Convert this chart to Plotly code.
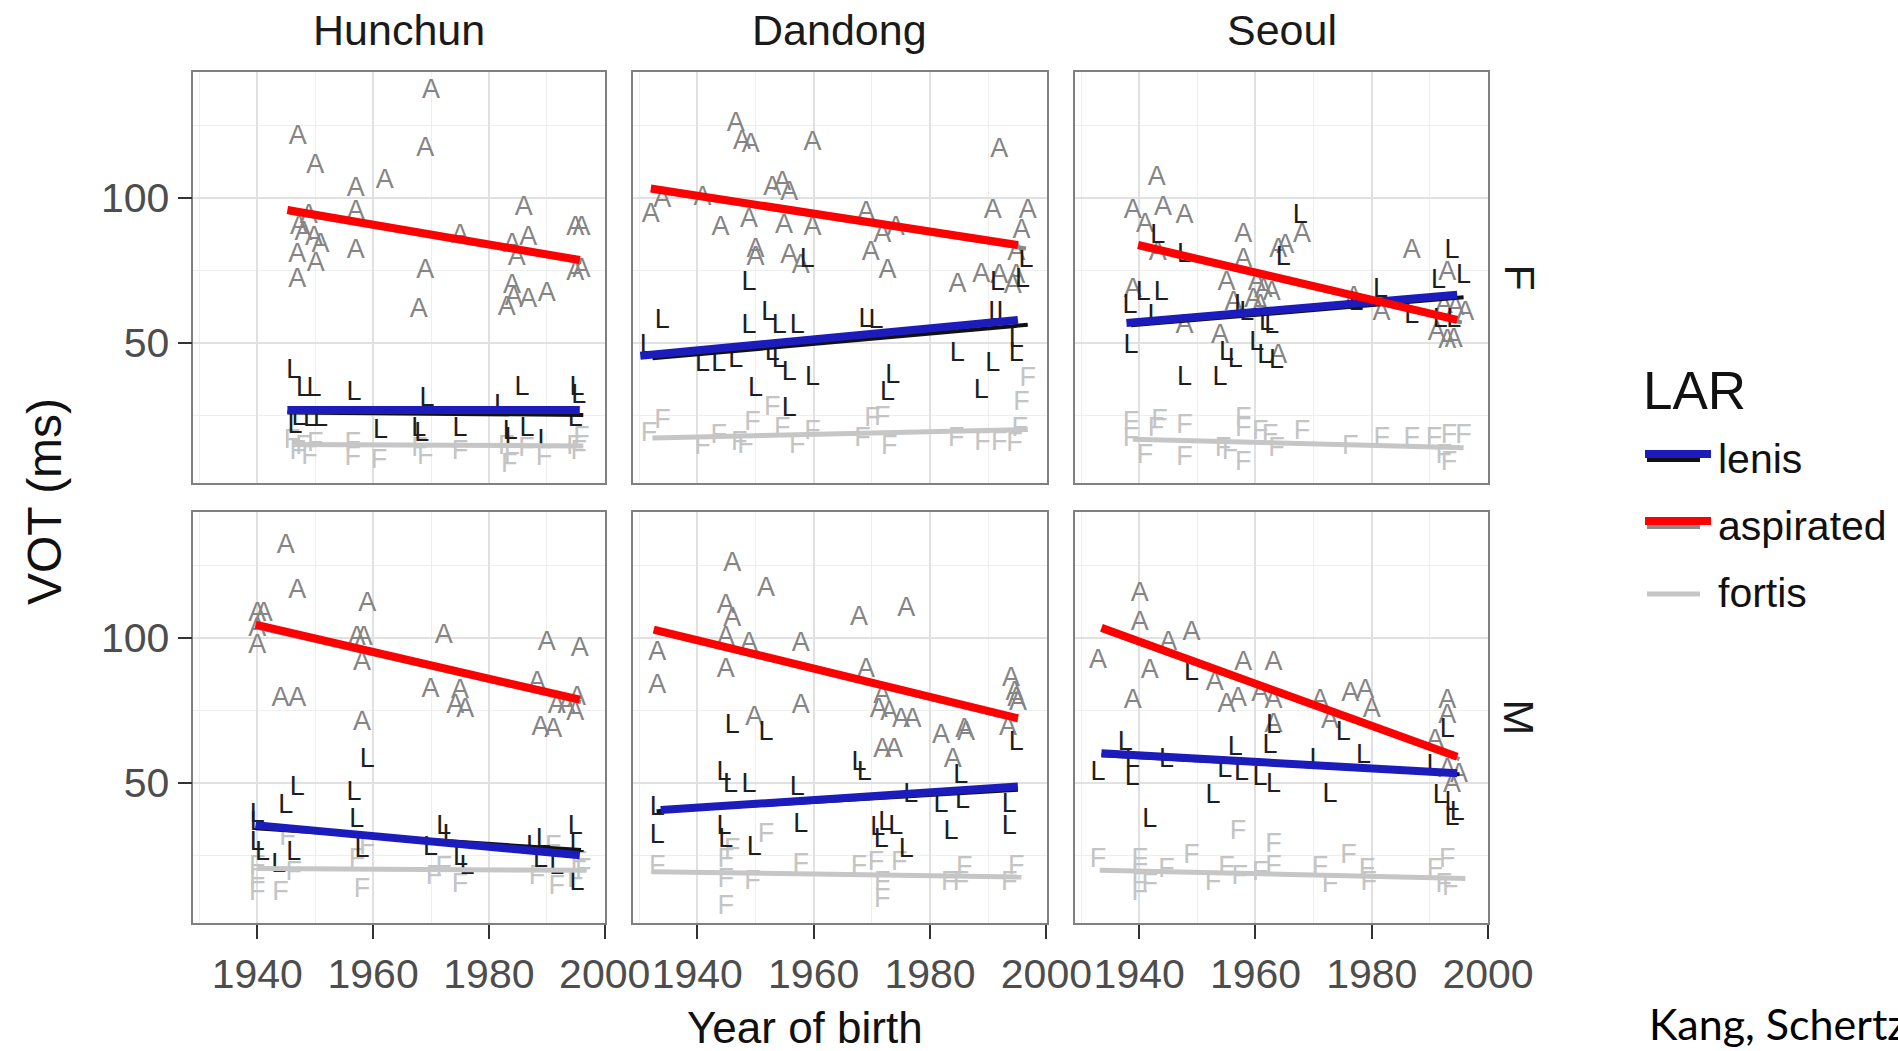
import plotly.graph_objects as go

FONT = "Liberation Sans, Arial, Helvetica, sans-serif"

CITIES = ["Hunchun", "Dandong", "Seoul"]
SEXES = ["F", "M"]
LAR_LEVELS = ["lenis", "aspirated", "fortis"]
X_TICKS = [1940, 1960, 1980, 2000]
X_MINOR = [1930, 1950, 1970, 1990]
Y_TICKS = [50, 100]
Y_MINOR = [25, 75, 125]

# ---- data: (year of birth, VOT ms) ----
HF_ASP = [(1970,137),(1947,121),(1950,111),(1969,117),(1957,103),(1962,106),(1957,95),(1957,81.5),(1948.9,93.6),
          (1947.2,90),(1948,87.8),(1949.8,86),(1950.9,83.8),(1946.9,80.3),(1950.1,77),(1946.9,71.7),(1969,74.6),
          (1967.9,61.4),(1975,86.7),(1986,96.4),(1986.8,86),(1984.8,79.2),(1984,83.8),(1984,69.4),(1984.3,65.4),
          (1983.1,62),(1986.8,64.8),(1990,66.6),(1994.9,89.5),(1996,89.5),(1994.9,74),(1996,75.2)]
HF_LEN = [(1946.3,40),(1948,33.8),(1949.8,33.8),(1956.7,32.6),(1969.3,30.3),(1982.2,28),(1985.7,34.4),(1995.2,34.4),
          (1995.5,31.5),(1961.3,19.4),(1967.9,20),(1975,20),(1983.7,18.9),(1986.6,20),(1989.7,16),(1947.2,24),
          (1949.2,23.4),(1950.9,23.4),(1994.9,23.4),(1984,16.6),(1968.4,18.5),(1946.5,21)]
HF_FOR = [(1946,16),(1947,12),(1948,14),(1949,10.5),(1950,15),(1956.5,15),(1956.5,10),(1961,9),(1968,13),(1969,10.5),
          (1975,12),(1983,14),(1983.5,7.5),(1984,11),(1986.5,13),(1989.5,10),(1994.8,14),(1995.5,12),(1996,17)]

DF_ASP = [(1946.6,125.7),(1947.7,119.4),(1949.2,118.3),(1959.8,118.9),(1991.9,116.6),(1934,99.3),(1932,94.1),
          (1940.9,99.9),(1952.9,103.3),(1954.6,105.1),(1955.8,101.6),(1944,89.5),(1948.9,92.4),(1954.9,90.1),
          (1959.8,89.5),(1950,82.1),(1950,79.2),(1955.8,79.8),(1957.8,76.3),(1969,94.7),(1971.8,87.2),(1974.1,89.5),
          (1969.8,80.9),(1972.7,74.6),(1984.7,70),(1988.8,73.4),(1990.8,95.3),(1996.8,95.3),(1995.7,88.4),
          (1994.8,80.9),(1994.8,72.9),(1991.9,72.9),(1994.2,69.4)]
DF_LEN = [(1958.9,78.6),(1948.9,70.6),(1996.5,78.6),(1995.9,71.7),(1991.6,70.6),(1934,57.4),(1948.9,55.6),
          (1952.3,60.2),(1954.1,55.6),(1957.2,55.6),(1969,57.9),(1970.7,57.4),(1991.3,60.2),(1992.7,60.2),
          (1931.4,48.7),(1940.9,42.4),(1943.7,42.4),(1946.6,44.1),(1952.9,46.4),(1954.1,44.1),(1950,33.8),
          (1955.8,39.5),(1959.8,37.8),(1973.6,38.4),(1972.7,32.6),(1984.7,45.9),(1990.8,42.4),(1988.8,33.2),
          (1994.8,45.9),(1994.8,51),(1955.8,26.9)]
DF_FOR = [(1996.8,37.2),(1995.7,29.2),(1952.9,27.5),(1934,22.9),(1931.7,18.3),(1949.5,22.3),(1970.1,23.4),
          (1971.8,24),(1940.9,13.7),(1943.7,17.7),(1947.2,15.4),(1948.3,14.3),(1954.6,20),(1957.2,14.3),
          (1959.8,18.9),(1968.4,16.6),(1973,13.7),(1984.5,16.6),(1989,15.4),(1991.9,15.4),(1994.5,14.8),(1995.4,20)]

SF_ASP = [(1943,106.8),(1938.9,95.3),(1941,90.7),(1944.1,96.4),(1947.8,93.6),(1943.2,80.9),(1957.9,87.2),
          (1957.9,78.6),(1963.9,82.1),(1965.1,83.2),(1968,87.2),(1955,70.6),(1960.2,70.6),(1961.4,68.3),
          (1962.8,67.1),(1956.2,63.7),(1959.6,64.8),(1960.8,62.5),(1953.9,52.2),(1947.8,55.6),(1938.9,68.3),
          (1963.9,45.3),(1986.9,81.5),(1981.7,60.2),(1993,74),(1992.4,62.5),(1994.4,62),(1996.1,60.2),
          (1991.2,53.3),(1993,50.5),(1994.1,51),(1976.9,65.4)]
SF_LEN = [(1967.7,93.6),(1943.2,86.7),(1947.8,80.3),(1964.8,79.2),(1993.8,81.5),(1995.8,72.9),(1991.5,71.1),
          (1940.7,67.1),(1943.8,67.1),(1938.4,62.5),(1942.7,59.1),(1957.6,62.5),(1958.5,60.2),(1961.9,56.8),
          (1962.8,55.6),(1960.2,49.9),(1961.6,45.3),(1955,46.4),(1956.5,44.1),(1963.6,43.6),(1938.6,48.7),
          (1947.8,37.8),(1953.9,37.8),(1981.5,68.3),(1986.9,59.1),(1991.8,57.9),(1994.1,57.9),(1977.3,63.7)]
SF_FOR = [(1938.6,22.3),(1938.6,16.6),(1943.5,22.9),(1942.9,20),(1947.8,21.1),(1941,10.8),(1947.8,10.2),
          (1957.9,23.4),(1957.9,20),(1954.4,13.1),(1955.6,12),(1957.9,8.5),(1960.8,18.9),(1962.5,17.7),
          (1963.6,13.1),(1968,18.9),(1976.3,13.7),(1981.7,16.6),(1986.9,16.6),(1990.7,16.6),(1993.3,17.7),
          (1995.8,17.7),(1992.4,10.8),(1993.3,8.5)]

HM_ASP = [(1944.9,131.7),(1946.9,116.1),(1940,108.1),(1941.1,108.1),(1940,102.9),(1940,97.1),(1959,111.5),
          (1957.2,100),(1958.4,100),(1958.1,91.3),(1958.1,70.6),(1944,78.7),(1946.9,78.7),(1972.2,100.6),
          (1969.9,82.1),(1975,81.5),(1974.2,76.4),(1975.9,75.2),(1990,98.3),(1995.7,96),(1988.3,84.4),
          (1991.7,76.4),(1993.4,76.4),(1995.2,79.2),(1994.9,74),(1988.9,68.9),(1991.1,68.3)]
HM_LEN = [(1959,57.9),(1956.7,46.4),(1946.9,48.1),(1944.9,41.8),(1940,38.9),(1940,36),(1957.2,37.1),(1940,29.1),
          (1940.9,25.6),(1943.7,21.6),(1946.3,25.6),(1958.1,26.8),(1972.2,34.8),(1973.3,31.4),(1969.9,27.3),
          (1975.1,23.9),(1976.2,21),(1987.7,27.9),(1989.4,30.2),(1988.9,23.3),(1991.7,21),(1994.9,34.8),
          (1995.2,28.5),(1995.2,15.2)]
HM_FOR = [(1940,21),(1940,11.8),(1944,11.8),(1945.2,30.8),(1940,16.4),(1946.3,18.7),(1959,27.9),(1958.1,12.9),
          (1957.2,23.3),(1970.5,17.5),(1972.2,20.4),(1975,14.6),(1988.3,17.5),(1991.7,14.1),(1991.1,27.9),
          (1995.5,22.1),(1996.3,19.8),(1994.9,16.4)]

DM_ASP = [(1946,125.4),(1951.8,116.7),(1944.9,111),(1946,106.3),(1944.9,100),(1948.9,97.7),(1933.1,94.8),
          (1933.1,83.3),(1944.9,89),(1957.8,97.7),(1957.8,76.4),(1949.8,72.3),(1967.8,106.9),(1975.9,109.8),
          (1969,89),(1971.8,79.8),(1971.2,75.2),(1973,74),(1975,71.7),(1977,71.7),(1971.8,61.4),(1973.8,61.4),
          (1981.9,66),(1985.9,68.3),(1986.2,67.1),(1983.9,57.9),(1993.9,85.6),(1994.5,81),(1994.8,78.7),
          (1995.1,77.5),(1993.4,68.9)]
DM_LEN = [(1946,69.4),(1951.8,67.1),(1944.6,53.3),(1945.7,49.1),(1948.9,49.3),(1957.2,48.1),(1933.1,41.2),
          (1933.1,31.4),(1944.6,34.8),(1944.9,30.2),(1949.8,27.3),(1957.8,35.4),(1967.8,56.7),(1968.7,53.3),
          (1971,34.3),(1971.6,30.2),(1972.4,36),(1974.1,34.8),(1975.9,26.8),(1976.7,45.8),(1981.9,42.3),
          (1985.3,52.1),(1985.6,43.5),(1983.6,33.1),(1993.6,42.3),(1993.6,34.8),(1994.8,63.7)]
DM_FOR = [(1951.8,31.9),(1946,26.8),(1933.1,21),(1944.9,23.3),(1944.9,16.4),(1949.5,15.8),(1944.9,7.2),
          (1957.8,21.6),(1967.8,21),(1970.7,22.1),(1974.7,22.1),(1971.8,15.2),(1971.8,9.5),(1985.9,20.4),
          (1983.3,15.2),(1985.3,15.2),(1994.8,21),(1993.6,15.2)]

SM_ASP = [(1940.1,115),(1940.1,105.2),(1945,98.3),(1949,101.7),(1932.9,91.9),(1941.8,88.5),(1938.9,78.1),
          (1957.9,91.3),(1963.1,91.3),(1953,84.4),(1955,76.9),(1957,78.7),(1960.8,80.4),(1963.1,78.1),(1963.1,70),
          (1971.1,78.1),(1972.8,71.2),(1976.3,80.4),(1978.9,81.5),(1980,75.2),(1993,78.1),(1993,72.9),
          (1990.9,64.2),(1993,54.4),(1995,52.7),(1993.8,49.3)]
SM_LEN = [(1949,87.9),(1963.1,69.4),(1962.5,62.5),(1993,68.3),(1975.1,67.1),(1937.6,63.7),(1938.8,57.9),
          (1938.8,51.6),(1932.9,53.3),(1944.7,57.9),(1956.5,61.9),(1954.7,54.4),(1957.6,53.3),(1960.8,51.6),
          (1963.1,49.3),(1952.7,45.2),(1941.8,37.1),(1970.6,57.9),(1978.6,59.1),(1972.8,45.8),(1990.7,55.6),
          (1991.8,45.2),(1993.8,42.9),(1994.7,39.4),(1993.8,37.7)]
SM_FOR = [(1932.9,23.3),(1940.1,23.3),(1940.1,18.1),(1941.8,14.6),(1940.1,11.8),(1944.7,19.8),(1949,24.5),
          (1952.7,15.2),(1955,20.4),(1957,33.1),(1957.3,17.5),(1960.8,18.7),(1963.1,28.5),(1963.1,21),
          (1971.1,20.4),(1972.8,14.6),(1976,24.5),(1979.2,19.8),(1979.5,15.2),(1990.9,19.8),(1993,23.3),
          (1992.4,14.6),(1993.5,13.5)]

# ---- linear trend lines (start, end) ----
HF_FIT = {"lenis": [(1945.2,25.9),(1996.3,25.0)], "aspirated": [(1945.5,95.0),(1996.0,77.8)], "fortis": [(1946,14.8),(1996.3,14.3)]}
DF_FIT = {"lenis": [(1932.3,44.6),(1996.8,56.2)], "aspirated": [(1932.3,102.5),(1996.5,82.6)], "fortis": [(1932.3,17.1),(1996.8,20.0)]}
SF_FIT = {"lenis": [(1938.6,56.0),(1995.8,65.7)], "aspirated": [(1939.8,83.0),(1995.5,57.0)], "fortis": [(1938.9,16.6),(1995.8,13.7)]}
HM_FIT = {"lenis": [(1939.7,34.3),(1995.9,26.8)], "aspirated": [(1939.7,103.7),(1995.9,77.9)], "fortis": [(1940,20.4),(1996.9,19.8)]}
DM_FIT = {"lenis": [(1933.0,40.2),(1995.1,47.6)], "aspirated": [(1933.0,102.0),(1995.1,71.5)], "fortis": [(1932.3,19.3),(1995.7,17.5)]}
SM_FIT = {"lenis": [(1933.5,59.5),(1995.1,53.0)], "aspirated": [(1933.5,102.7),(1995.1,58.2)], "fortis": [(1933.2,19.8),(1996.1,17.0)]}

# highlighted (hand-drawn) overlay lines
HF_HL = {"lenis": [(1945.2,26.7),(1995.7,26.7)], "aspirated": [(1945.2,95.9),(1995.7,78.6)]}
DF_HL = {"lenis": [(1930.2,45.5),(1995.1,57.9)], "aspirated": [(1932.0,103.3),(1995.1,83.8)]}
SF_HL = {"lenis": [(1937.8,56.8),(1994.7,66.6)], "aspirated": [(1939.8,83.8),(1994.7,57.9)]}
HM_HL = {"lenis": [(1939.7,35.4),(1995.7,25.0)], "aspirated": [(1939.7,104.6),(1995.7,78.7)]}
DM_HL = {"lenis": [(1933.7,40.6),(1995.1,48.7)], "aspirated": [(1932.5,102.9),(1995.1,72.3)]}
SM_HL = {"lenis": [(1933.5,60.2),(1994.7,53.3)], "aspirated": [(1933.5,103.5),(1994.7,59.0)]}

PANEL_POINTS = {
    ("Hunchun", "F"): {"lenis": HF_LEN, "aspirated": HF_ASP, "fortis": HF_FOR},
    ("Dandong", "F"): {"lenis": DF_LEN, "aspirated": DF_ASP, "fortis": DF_FOR},
    ("Seoul", "F"): {"lenis": SF_LEN, "aspirated": SF_ASP, "fortis": SF_FOR},
    ("Hunchun", "M"): {"lenis": HM_LEN, "aspirated": HM_ASP, "fortis": HM_FOR},
    ("Dandong", "M"): {"lenis": DM_LEN, "aspirated": DM_ASP, "fortis": DM_FOR},
    ("Seoul", "M"): {"lenis": SM_LEN, "aspirated": SM_ASP, "fortis": SM_FOR},
}
PANEL_FIT = {("Hunchun", "F"): HF_FIT, ("Dandong", "F"): DF_FIT, ("Seoul", "F"): SF_FIT,
             ("Hunchun", "M"): HM_FIT, ("Dandong", "M"): DM_FIT, ("Seoul", "M"): SM_FIT}
PANEL_HL = {("Hunchun", "F"): HF_HL, ("Dandong", "F"): DF_HL, ("Seoul", "F"): SF_HL,
            ("Hunchun", "M"): HM_HL, ("Dandong", "M"): DM_HL, ("Seoul", "M"): SM_HL}

# ---- styles ----
LETTER = {"lenis": "L", "aspirated": "A", "fortis": "F"}
LETTER_COLOR = {"lenis": "#1e1e1e", "aspirated": "#858585", "fortis": "#c4c4c4"}
FIT_COLOR = {"lenis": "#111111", "aspirated": "#8a8a8a", "fortis": "#c6c6c6"}
FIT_WIDTH = {"lenis": 4, "aspirated": 4, "fortis": 5}
HL_COLOR = {"lenis": "#1c1cbd", "aspirated": "#ff0000"}

W, H = 1898, 1051
COL_PX = [(193.3, 605.0), (633.0, 1046.7), (1075.0, 1488.3)]
ROW_PX = [(72.0, 483.0), (511.7, 923.3)]
X_RANGE = [1928.95, 2000.05]
Y_RANGE = [1.5, 143.6]

fig = go.Figure()
layout = dict(width=W, height=H, autosize=False, margin=dict(l=0, r=0, t=0, b=0, autoexpand=False),
              paper_bgcolor="white", plot_bgcolor="white", showlegend=False,
              font=dict(family=FONT))

annotations = []
shapes = []
for r, sex in enumerate(SEXES):
    for c, city in enumerate(CITIES):
        k = r * 3 + c + 1
        xa = "x" if k == 1 else f"x{k}"
        ya = "y" if k == 1 else f"y{k}"
        key = (city, sex)
        pts = PANEL_POINTS[key]
        for lev in ["fortis", "aspirated", "lenis"]:
            p = pts[lev]
            fig.add_trace(go.Scatter(
                x=[q[0] for q in p], y=[q[1] for q in p], mode="text",
                text=[LETTER[lev]] * len(p), textposition="middle center",
                textfont=dict(family=FONT, size=27, color=LETTER_COLOR[lev]),
                hoverinfo="skip", xaxis=xa, yaxis=ya, showlegend=False))
        for lev in ["lenis", "aspirated", "fortis"]:
            f = PANEL_FIT[key][lev]
            fig.add_trace(go.Scatter(
                x=[q[0] for q in f], y=[q[1] for q in f], mode="lines",
                line=dict(color=FIT_COLOR[lev], width=FIT_WIDTH[lev]),
                hoverinfo="skip", xaxis=xa, yaxis=ya, showlegend=False))
        for lev in ["lenis", "aspirated"]:
            f = PANEL_HL[key][lev]
            fig.add_trace(go.Scatter(
                x=[q[0] for q in f], y=[q[1] for q in f], mode="lines",
                line=dict(color=HL_COLOR[lev], width=8),
                hoverinfo="skip", xaxis=xa, yaxis=ya, showlegend=False))

        x0, x1 = COL_PX[c]
        y0, y1 = ROW_PX[r]
        bottom = (r == 1)
        left = (c == 0)
        xname = "xaxis" if k == 1 else f"xaxis{k}"
        yname = "yaxis" if k == 1 else f"yaxis{k}"
        layout[xname] = dict(
            domain=[x0 / W, x1 / W], anchor=ya, range=X_RANGE, automargin=False,
            tickmode="array", tickvals=X_TICKS, ticktext=[str(v) for v in X_TICKS],
            showticklabels=bottom, ticks="outside" if bottom else "",
            ticklen=14, tickwidth=2, tickcolor="#333333",
            tickfont=dict(family=FONT, size=41, color="#4d4d4d"),
            showgrid=True, gridcolor="#e1e1e1", gridwidth=2,
            minor=dict(tickvals=X_MINOR, showgrid=True, gridcolor="#eeeeee", gridwidth=1, ticks=""),
            showline=True, mirror=True, linecolor="#808080", linewidth=1.5, zeroline=False)
        layout[yname] = dict(
            domain=[1 - y1 / H, 1 - y0 / H], anchor=xa, range=Y_RANGE, automargin=False,
            tickmode="array", tickvals=Y_TICKS, ticktext=[str(v) for v in Y_TICKS],
            showticklabels=left, ticks="outside" if left else "",
            ticklen=14, tickwidth=2, tickcolor="#333333",
            tickfont=dict(family=FONT, size=41, color="#4d4d4d"),
            showgrid=True, gridcolor="#e1e1e1", gridwidth=2,
            minor=dict(tickvals=Y_MINOR, showgrid=True, gridcolor="#eeeeee", gridwidth=1, ticks=""),
            showline=True, mirror=True, linecolor="#808080", linewidth=1.5, zeroline=False)

# strip labels
for c, city in enumerate(CITIES):
    x0, x1 = COL_PX[c]
    annotations.append(dict(text=city, x=(x0 + x1) / 2 / W, y=1 - 30 / H, xref="paper", yref="paper",
                            xanchor="center", yanchor="middle", showarrow=False,
                            font=dict(family=FONT, size=43, color="#1a1a1a")))
for r, sex in enumerate(SEXES):
    y0, y1 = ROW_PX[r]
    annotations.append(dict(text=sex, x=1519 / W, y=1 - (y0 + y1) / 2 / H, xref="paper", yref="paper",
                            xanchor="center", yanchor="middle", showarrow=False, textangle=90,
                            font=dict(family=FONT, size=43, color="#1a1a1a")))

# axis titles
annotations.append(dict(text="VOT (ms)", x=44 / W, y=1 - 502 / H, xref="paper", yref="paper",
                        xanchor="center", yanchor="middle", showarrow=False, textangle=-90,
                        font=dict(family=FONT, size=48, color="#111111")))
annotations.append(dict(text="Year of birth", x=805 / W, y=1 - 1027 / H, xref="paper", yref="paper",
                        xanchor="center", yanchor="middle", showarrow=False,
                        font=dict(family=FONT, size=44, color="#111111")))

# legend (drawn manually to mimic the edited keys)
LEGEND_TITLE = "LAR"
annotations.append(dict(text=LEGEND_TITLE, x=1641 / W, y=1 - 391 / H, xref="paper", yref="paper",
                        xanchor="left", yanchor="middle", showarrow=False,
                        font=dict(family=FONT, size=53, color="#111111")))
LEG_ROWS = [459, 526, 593]
for lev, yy in zip(LAR_LEVELS, LEG_ROWS):
    annotations.append(dict(text=lev, x=1716 / W, y=1 - yy / H, xref="paper", yref="paper",
                            xanchor="left", yanchor="middle", showarrow=False,
                            font=dict(family=FONT, size=41, color="#111111")))
    shapes.append(dict(type="line", xref="paper", yref="paper", x0=1647 / W, x1=1700 / W,
                       y0=1 - (yy + 1) / H, y1=1 - (yy + 1) / H,
                       line=dict(color=FIT_COLOR[lev], width=FIT_WIDTH[lev])))
    if lev in HL_COLOR:
        shapes.append(dict(type="line", xref="paper", yref="paper", x0=1645 / W, x1=1711 / W,
                           y0=1 - (yy - 5) / H, y1=1 - (yy - 5) / H,
                           line=dict(color=HL_COLOR[lev], width=8)))

# citation text (cut off at right edge in the source slide)
annotations.append(dict(text="Kang, Schertz", x=1647 / W, y=1 - 1023 / H, xref="paper", yref="paper",
                        xanchor="left", yanchor="middle", showarrow=False,
                        font=dict(family="Lato, Open Sans, sans-serif", size=43, color="#000000")))

layout["annotations"] = annotations
layout["shapes"] = shapes
fig.update_layout(**layout)

fig.write_html("out.html", config=dict(displayModeBar=False, responsive=False),
               post_script="document.body.style.margin='0';document.body.style.overflow='hidden';")
